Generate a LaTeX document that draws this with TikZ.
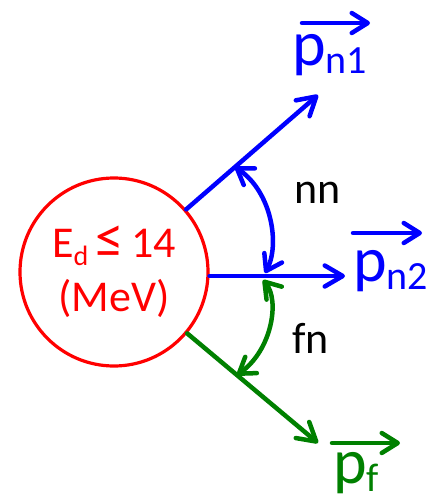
\documentclass[tikz,border=0pt]{standalone}
\usepackage{fontspec}
\setmainfont{Carlito}
\usetikzlibrary{arrows.meta, calc}
\definecolor{neutronblue}{RGB}{0,0,255}
\definecolor{fragmentgreen}{RGB}{0,128,0}
\definecolor{deutronred}{RGB}{255,0,0}
\tikzset{
    ray/.style={line width=4.5pt, line cap=round, -{Straight Barb[length=18pt, width=21pt, round]}},
    anglearrow/.style={line width=4.5pt, {Straight Barb[length=15pt, width=20pt, round]}-{Straight Barb[length=15pt, width=20pt, round]}},
    vecarrow/.style={line width=4.5pt, line cap=round, -{Straight Barb[length=16pt, width=20pt, round]}},
    anglelabel/.style={inner sep=0pt, anchor=base west, font=\fontsize{44}{54}\selectfont},
    momentum/.style={inner sep=0pt, anchor=base west, font=\fontsize{64}{64}\selectfont}
}
\newcommand{\lowsub}[2]{\raisebox{-8pt}{\fontsize{#1}{#1}\selectfont #2}}

\begin{document}
\begin{tikzpicture}[x=1pt, y=-1pt]
    \useasboundingbox (0,0) rectangle (426,496);

    \node[circle, draw=deutronred, line width=3.2pt, minimum size=188pt, inner sep=0pt,
          text=deutronred, align=center, font=\fontsize{44}{54}\selectfont] (ed) at (114,272)
          {E\lowsub{28}{d}\,\scalebox{1.3}{≤}\,14\\(MeV)};

    \coordinate (n1tip) at (318,95);
    \coordinate (n2tip) at (345,276);
    \coordinate (ftip) at (318,443);

    \draw[ray, neutronblue] (ed) -- (n1tip);
    \draw[ray, neutronblue] (ed.east |- n2tip) -- (n2tip);
    \draw[ray, fragmentgreen] (ed) -- (ftip);

    % opening angles
    \coordinate (nnA) at (235,167);
    \coordinate (nnB) at (265,273);
    \coordinate (fnA) at (263,280);
    \coordinate (fnB) at (237,375);
    \draw[anglearrow, neutronblue] (nnA) .. controls (272,192) and (280,245) .. (nnB);
    \draw[anglearrow, fragmentgreen] (fnA) .. controls (280,300) and (272,350) .. (fnB);

    \node[anglelabel] (nn) at (294,203) {nn};
    \node[anglelabel] (fn) at (292,353) {fn};

    % momenta
    \node[momentum, text=neutronblue] (pn1) at (292,65) {p\lowsub{40}{n1}};
    \node[momentum, text=neutronblue] (pn2) at (353,281) {p\lowsub{40}{n2}};
    \node[momentum, text=fragmentgreen] (pf) at (333,483) {p\lowsub{40}{f}};
    \draw[vecarrow, neutronblue] ($(pn1.base west)+(10,-42)$) -- ++(68,0);
    \draw[vecarrow, neutronblue] ($(pn2.base west)+(0,-48)$) -- ++(69,0);
    \draw[vecarrow, fragmentgreen] ($(pf.base west)+(-1,-40)$) -- ++(68,0);
\end{tikzpicture}
\end{document}
